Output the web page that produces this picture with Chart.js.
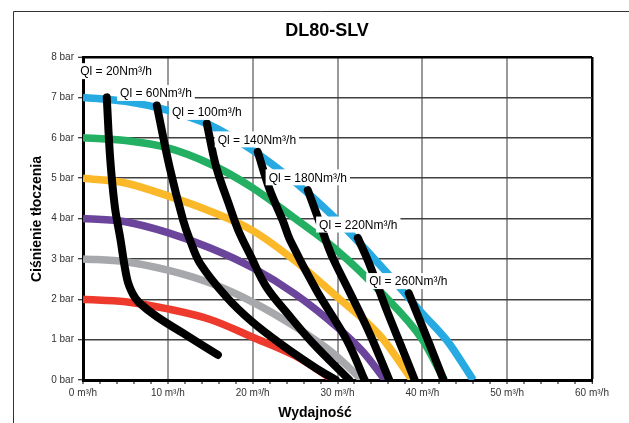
<!DOCTYPE html>
<html>
<head>
<meta charset="utf-8">
<script src="https://cdn.jsdelivr.net/npm/chart.js@4.4.0/dist/chart.umd.min.js"></script>
<style>
html, body { margin: 0; padding: 0; background: #fff; }
</style>
</head>
<body>
<canvas id="c" width="629" height="423"></canvas>
<script>
// pump curves at different supply pressures (flow m3/h -> bar)
var p2Flow = [0, 5, 10, 15, 20, 25, 29.5];
var p2Bar  = [2.0, 1.94, 1.76, 1.5, 1.06, 0.6, 0];
var p3Flow = [0, 5, 10, 15, 20, 25, 29.5, 32.9];
var p3Bar  = [3.0, 2.93, 2.72, 2.4, 1.93, 1.32, 0.66, 0];
var p4Flow = [0, 5, 10, 15, 20, 25, 30, 33, 35.6];
var p4Bar  = [4.0, 3.92, 3.65, 3.27, 2.78, 2.13, 1.3, 0.7, 0];
var p5Flow = [0, 5, 10, 15, 20, 25, 30, 35, 38.8];
var p5Bar  = [5.0, 4.88, 4.56, 4.18, 3.7, 2.95, 2.05, 1.1, 0];
var p6Flow = [0, 5, 10, 15, 20, 25, 30, 35, 40, 42.6];
var p6Bar  = [6.0, 5.93, 5.75, 5.35, 4.76, 4.0, 3.2, 2.2, 1.0, 0];
var p7Flow = [0, 5, 10, 15, 20, 25, 30, 35, 40, 43, 46];
var p7Bar  = [7.0, 6.9, 6.68, 6.31, 5.69, 4.9, 3.95, 2.85, 1.65, 0.95, 0];

// air consumption lines
var q20Flow  = [2.8, 3.2, 3.75, 4.4, 5.2, 5.9, 6.6, 8.7, 11.8, 15.9];
var q20Bar   = [7.0, 5.5, 4.3, 3.5, 2.5, 2.12, 1.92, 1.57, 1.16, 0.62];
var q60Flow  = [8.7, 10.2, 11.8, 12.6, 13.8, 16.9, 19.9, 23.6, 27.5, 29.8];
var q60Bar   = [6.8, 5.28, 3.96, 3.47, 2.89, 2.06, 1.45, 0.85, 0.29, 0];
var q100Flow = [14.6, 15.7, 17.3, 18.3, 19.7, 21.6, 24.4, 27.1, 31.4];
var q100Bar  = [6.35, 5.28, 4.29, 3.71, 3.1, 2.31, 1.57, 0.91, 0];
var q140Flow = [20.6, 22.0, 23.6, 24.4, 27.5, 31.1, 33.2];
var q140Bar  = [5.65, 4.72, 3.92, 3.47, 2.23, 0.99, 0];
var q180Flow = [26.5, 27.9, 28.9, 29.6, 31.5, 33.8, 36.1];
var q180Bar  = [4.7, 3.9, 3.3, 2.95, 2.15, 1.15, 0];
var q220Flow = [32.4, 33.8, 35.8, 37.7, 39.1];
var q220Bar  = [3.52, 2.85, 1.73, 0.74, 0];
var q260Flow = [38.4, 40.8, 42.5];
var q260Bar  = [2.15, 0.91, 0];

var airLabels = ['Ql = 20Nm³/h', 'Ql = 60Nm³/h', 'Ql = 100m³/h', 'Ql = 140Nm³/h', 'Ql = 180Nm³/h', 'Ql = 220Nm³/h', 'Ql = 260Nm³/h'];
var labelFlow = [3.9, 8.6, 14.6, 20.5, 26.5, 32.45, 38.35];
var labelBar  = [7.65, 7.11, 6.64, 5.96, 5.02, 3.85, 2.45];

var yUnit = ' bar';
var xUnit = ' m³/h';

var FONT = '"Liberation Sans", Arial, sans-serif';

function pts(xs, ys) {
	var out = [];
	for (var i = 0; i < xs.length; i++) out.push({ x: xs[i], y: ys[i] });
	return out;
}

function pump(xs, ys, col) {
	return { data: pts(xs, ys), borderColor: col, borderWidth: 7.5, borderCapStyle: 'butt',
		pointRadius: 0, fill: false, cubicInterpolationMode: 'monotone', order: 2 };
}
function air(xs, ys) {
	return { data: pts(xs, ys), borderColor: '#000', borderWidth: 8, borderCapStyle: 'round',
		borderJoinStyle: 'round', pointRadius: 0, fill: false, tension: 0.35, order: 1 };
}

var decor = {
	id: 'decor',
	beforeDraw: function (chart) {
		var ctx = chart.ctx;
		ctx.save();
		ctx.fillStyle = '#fff';
		ctx.fillRect(0, 0, chart.width, chart.height);
		ctx.strokeStyle = '#333';
		ctx.lineWidth = 1;
		ctx.beginPath();
		ctx.moveTo(13.5, chart.height);
		ctx.lineTo(13.5, 11.5);
		ctx.lineTo(chart.width, 11.5);
		ctx.stroke();
		ctx.restore();
	},
	afterDatasetsDraw: function (chart) {
		var ctx = chart.ctx, xs = chart.scales.x, ys = chart.scales.y;
		ctx.save();
		ctx.font = '12px ' + FONT;
		ctx.textAlign = 'center';
		ctx.textBaseline = 'middle';
		for (var i = 0; i < airLabels.length; i++) {
			var cx = xs.getPixelForValue(labelFlow[i]);
			var cy = ys.getPixelForValue(labelBar[i]);
			var w = ctx.measureText(airLabels[i]).width + 6;
			ctx.fillStyle = '#fff';
			ctx.fillRect(cx - w / 2, cy - 8, w, 16);
			ctx.fillStyle = '#000';
			ctx.fillText(airLabels[i], cx, cy + 1);
		}
		ctx.restore();
	},
	afterDraw: function (chart) {
		var ctx = chart.ctx;
		ctx.save();
		ctx.fillStyle = '#000';
		ctx.textAlign = 'center';
		ctx.textBaseline = 'middle';
		ctx.font = 'bold 18px ' + FONT;
		ctx.fillText('DL80-SLV', 327, 31);
		ctx.font = 'bold 14px ' + FONT;
		ctx.fillText('Wydajność', 315, 413);
		ctx.translate(37, 219);
		ctx.rotate(-Math.PI / 2);
		ctx.fillText('Ciśnienie tłoczenia', 0, 0);
		ctx.restore();
	}
};

var ctx = document.getElementById('c').getContext('2d');
var chart = new Chart(ctx, {
	type: 'line',
	data: {
		datasets: [
			air(q20Flow, q20Bar), air(q60Flow, q60Bar), air(q100Flow, q100Bar), air(q140Flow, q140Bar),
			air(q180Flow, q180Bar), air(q220Flow, q220Bar), air(q260Flow, q260Bar),
			pump(p2Flow, p2Bar, '#EE3A2C'),
			pump(p3Flow, p3Bar, '#A6A8AB'),
			pump(p4Flow, p4Bar, '#6B449B'),
			pump(p5Flow, p5Bar, '#FBB829'),
			pump(p6Flow, p6Bar, '#24B063'),
			pump(p7Flow, p7Bar, '#27AAE1')
		]
	},
	options: {
		responsive: false,
		animation: false,
		layout: { padding: { left: 0, right: 37, top: 57, bottom: 0 } },
		plugins: { legend: { display: false }, tooltip: { enabled: false }, title: { display: false } },
		scales: {
			x: {
				type: 'linear', min: 0, max: 60,
				afterFit: function (s) { s.height = 43; },
				ticks: {
					stepSize: 2, autoSkip: false, maxRotation: 0, padding: 3,
					color: '#333', font: { size: 10, family: FONT },
					callback: function (v) { return v % 10 === 0 ? v + xUnit : ''; }
				},
				grid: {
					color: function (c) { return c.tick.value === 60 ? '#000' : (c.tick.value % 10 === 0 ? '#999' : 'rgba(0,0,0,0)'); },
					lineWidth: function (c) { return c.tick.value === 60 ? 2.5 : 2; },
					tickColor: '#000', tickLength: 4, tickWidth: 1
				},
				border: { color: '#000', width: 3 }
			},
			y: {
				min: 0, max: 8,
				afterFit: function (s) { s.width = 83; },
				ticks: {
					stepSize: 1, padding: 4, color: '#333', font: { size: 10, family: FONT },
					callback: function (v) { return v + yUnit; }
				},
				grid: {
					color: function (c) { return c.tick.value === 8 ? '#000' : '#404040'; },
					lineWidth: function (c) { return c.tick.value === 8 ? 2.5 : 1.5; },
					tickColor: '#000', tickLength: 5, tickWidth: 1
				},
				border: { color: '#000', width: 3 }
			}
		}
	},
	plugins: [decor]
});
</script>
</body>
</html>
